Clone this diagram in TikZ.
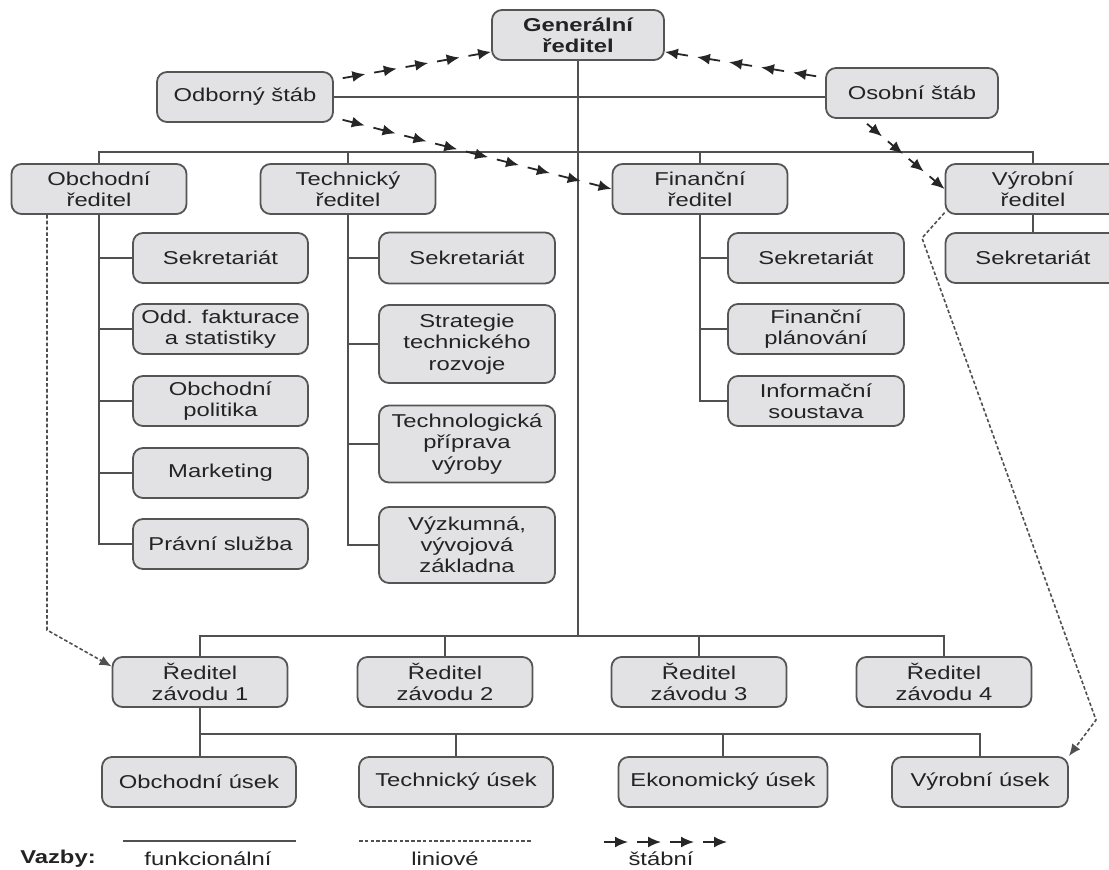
\documentclass[tikz,border=0pt]{standalone}
\usepackage{fontspec}
\setmainfont{Liberation Sans}[FakeStretch=1.28]
\usetikzlibrary{arrows.meta,calc}
\definecolor{boxfill}{RGB}{226,226,229}
\definecolor{boxline}{RGB}{85,85,85}
\definecolor{linecol}{RGB}{80,80,80}
\definecolor{textcol}{RGB}{35,35,35}
\newcommand{\stabni}[3]{%
  \foreach \k in {1,...,#3} {
    \draw[stab] ($(#1)!{(\k-1+0.28)/#3}!(#2)$) -- ($(#1)!{\k/#3}!(#2)$);
  }}
\begin{document}
\begin{tikzpicture}[x=0.5pt,y=-0.5pt,
    font=\fontsize{9.3}{10.6}\selectfont,
    boldtext/.style={font=\fontsize{9.3}{10.6}\selectfont\bfseries},
    box/.style={draw=boxline, fill=boxfill, line width=0.9pt, rounded corners=5pt,
      align=center, text=textcol, inner sep=0pt, minimum width=87.5pt, minimum height=25pt},
    conn/.style={draw=linecol, line width=0.8pt},
    liniove/.style={draw=linecol, line width=0.8pt, dash pattern=on 1.8pt off 1.1pt},
    stab/.style={draw=black!85, line width=0.9pt, -{Latex[length=6.5pt,width=5.5pt]}}]
    \useasboundingbox (0,0) rectangle (1109,869);

    \node[box, boldtext, minimum width=86pt] (gen) at (578,35) {Generální\\ředitel};
    \node[box, minimum width=88pt] (odb) at (245,97) {Odborný štáb};
    \node[box, minimum width=86pt] (oso) at (912,93) {Osobní štáb};

    \foreach \n/\x/\t in {obch/99/Obchodní, tech/348/Technický, fin/700/Finanční, vyr/1033/Výrobní}
        \node[box] (\n) at (\x,189) {\t\\ředitel};

    \foreach \n/\y/\t in {os1/258/Sekretariát, os2/329/{Odd. fakturace\\a statistiky},
            os3/401/{Obchodní\\politika}, os4/473/Marketing, os5/544/Právní služba}
        \node[box] (\n) at (220.5,\y) {\t};

    \foreach \n/\y/\h/\t in {ts1/258/25.5/Sekretariát, ts2/344/39/{Strategie\\technického\\rozvoje},
            ts3/444/38.5/{Technologická\\příprava\\výroby}, ts4/545/38/{Výzkumná,\\vývojová\\základna}}
        \node[box, minimum width=88pt, minimum height=\h pt] (\n) at (467,\y) {\t};

    \foreach \n/\y/\t in {fs1/258/Sekretariát, fs2/329/{Finanční\\plánování}, fs3/401/{Informační\\soustava}}
        \node[box, minimum width=88pt] (\n) at (816,\y) {\t};
    \node[box] (vs1) at (1033,258) {Sekretariát};

    \foreach \i/\x in {1/200,2/445,3/699,4/944}
        \node[box] (z\i) at (\x,682) {Ředitel\\závodu \i};

    \node[box, minimum width=97pt] (obu) at (199,782) {Obchodní úsek};
    \node[box, minimum width=97pt] (teu) at (456,782) {Technický úsek};
    \node[box, minimum width=104.5pt] (eku) at (723,782) {Ekonomický úsek};
    \node[box, minimum width=88pt] (vyu) at (980,782) {Výrobní úsek};

    \coordinate (bus2) at (577,152);
    \coordinate (bus3) at (577,636);
    \coordinate (bus4) at (200,734);
    \draw[conn] (gen.south) -- (gen.south |- bus3);
    \draw[conn] (odb.east) -- (odb.east -| oso.west);
    \draw[conn] (obch.north) |- (bus2) -| (vyr.north);
    \draw[conn] (tech.north) -- (tech.north |- bus2);
    \draw[conn] (fin.north) -- (fin.north |- bus2);
    \foreach \i in {1,...,5} \draw[conn] (obch.south) |- (os\i.west);
    \foreach \i in {1,...,4} \draw[conn] (tech.south) |- (ts\i.west);
    \foreach \i in {1,...,3} \draw[conn] (fin.south) |- (fs\i.west);
    \draw[conn] (vyr.south) -- (vs1.north);
    \draw[conn] (z1.north) |- (bus3) -| (z4.north);
    \foreach \i in {2,3} \draw[conn] (z\i.north) -- (z\i.north |- bus3);
    \draw[conn] (z1.south) -- (z1.south |- obu.north);
    \draw[conn] (z1.south |- bus4) -| (vyu.north);
    \foreach \n in {teu,eku} \draw[conn] (\n.north) -- (\n.north |- bus4);

    \coordinate (ob1) at (47,630);
    \coordinate (vy1) at (922,238);
    \coordinate (vy2) at (1096,720);
    \draw[liniove, -{Latex[length=6pt,width=5pt]}] (obch.south -| ob1) -- (ob1) -- (z1.170);
    \draw[liniove, -{Latex[length=6pt,width=5pt]}] (vyr.195) -- (vy1) -- (vy2) -- (vyu.north east);

    \stabni{odb.11}{gen.191}{5}
    \stabni{oso.170}{gen.349}{5}
    \stabni{odb.-13}{fin.west}{9}
    \stabni{oso.207}{vyr.west}{4}

    \coordinate (lf1) at (123,841);
    \coordinate (lf2) at (296,841);
    \coordinate (ll1) at (359,841);
    \coordinate (ll2) at (532,841);
    \coordinate (ls1) at (595,842);
    \coordinate (ls2) at (727,842);
    \draw[conn] (lf1) -- (lf2);
    \draw[liniove] (ll1) -- (ll2);
    \stabni{ls1}{ls2}{4}
    \node[boldtext, text=textcol] (vazby) at (58,859) {Vazby:};
    \node[text=textcol] (funk) at (208,859) {funkcionální};
    \node[text=textcol] (lin) at (445,859) {liniové};
    \node[text=textcol] (stb) at (661,859) {štábní};
\end{tikzpicture}
\end{document}
